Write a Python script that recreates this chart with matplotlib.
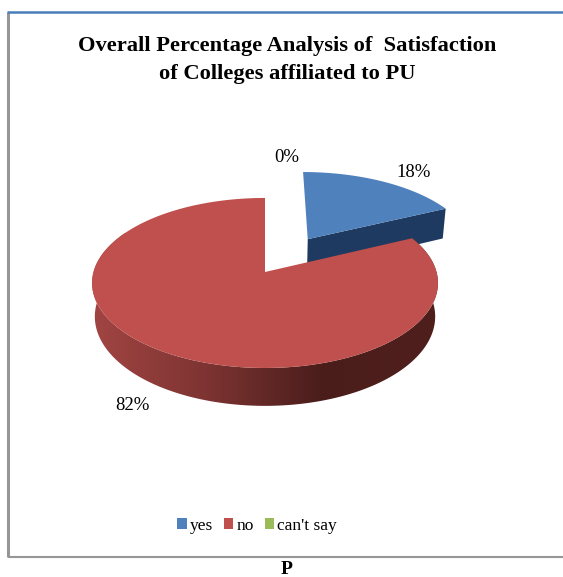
import numpy as np
import matplotlib
matplotlib.use("Agg")
import matplotlib.pyplot as plt
from matplotlib.colors import LinearSegmentedColormap
from matplotlib.patches import Patch, Polygon

categories = ["yes", "no", "can't say"]
shares = [18, 82, 0]
colors = ["#4f81bd", "#c0504d", "#9bbb59"]
title_lines = ["Overall Percentage Analysis of  Satisfaction", "of Colleges affiliated to PU"]

plt.rcParams["font.family"] = ["Liberation Serif", "DejaVu Serif"]

# pie geometry in figure pixels
CX, CY = 265, 272
RX, RY = 171.5, 83.6
PERSP = 0.129
DEPTH = 33
EXPLODE = 0.49


def project(u, v, drop=0.0):
    # circle coordinates to screen, with a little perspective towards the back
    w = 1 + PERSP * v
    shrink = 1 - 0.016 * drop
    return CX + RX * u * shrink / w, CY - RY * v / w + DEPTH * drop / w


def rim(a0, a1, offset=(0, 0), drop=0.0):
    # outer edge of a slice, angles clockwise from 12 o'clock
    t = np.radians(np.linspace(a0, a1, 200))
    return project(offset[0] + np.sin(t), offset[1] + np.cos(t), drop)


def top_face(a0, a1, offset=(0, 0)):
    x, y = rim(a0, a1, offset)
    ax0, ay0 = project(offset[0], offset[1])
    return np.column_stack([np.r_[ax0, x], np.r_[ay0, y]])


fig = plt.figure(figsize=(5.63, 5.77), dpi=100)
ax = fig.add_axes([0, 0, 1, 1])

# slice angles from the shares
yes_end = shares[0] / sum(shares) * 360
no_end = yes_end + shares[1] / sum(shares) * 360
mid = np.radians(yes_end / 2)
off = (EXPLODE * np.sin(mid), EXPLODE * np.cos(mid))

# cut face of the pulled out slice
ax0, ay0 = project(off[0], off[1])
bx0, by0 = project(off[0], off[1], 1)
tx, ty = rim(yes_end, yes_end, off)
tbx, tby = rim(yes_end, yes_end, off, 1)
ax.add_patch(Polygon([(ax0, ay0), (tx[0], ty[0]), (tbx[0], tby[0]), (bx0, by0)],
                     closed=True, fc="#1f3a60", ec="none", zorder=2))
ax.add_patch(Polygon(top_face(0, yes_end, off), closed=True, fc=colors[0], ec="none", zorder=3))

# outer wall of the big slice, shaded left to right
ux, uy = rim(yes_end, 300)
lx, ly = rim(yes_end, 300, drop=1)
wall = Polygon(np.column_stack([np.r_[ux, lx[::-1]], np.r_[uy, ly[::-1]]]),
               closed=True, fc="none", ec="none", zorder=4)
ax.add_patch(wall)
shade = LinearSegmentedColormap.from_list("wall", ["#a24543", "#7d3432", "#4a1d1b", "#4f1f1d"])
img = ax.imshow(np.linspace(0, 1, 256)[None, :], cmap=shade, aspect="auto",
                extent=(90, 438, 420, 190), zorder=4)
img.set_clip_path(wall)
ax.add_patch(Polygon(top_face(yes_end, no_end), closed=True, fc=colors[1], ec="none", zorder=5))

# chart frame
ax.plot([8, 8], [12, 557], color="#969696", lw=2.2, zorder=1, solid_capstyle="butt")
ax.plot([8, 563], [557, 557], color="#969696", lw=1.5, zorder=1, solid_capstyle="butt")
ax.plot([7, 563], [12, 12], color="#4a7ebb", lw=1.8, zorder=1, solid_capstyle="butt")

ax.text(287, 46.5, title_lines[0], ha="center", va="center", fontsize=16.2, fontweight="bold")
ax.text(287, 74.5, title_lines[1], ha="center", va="center", fontsize=16.2, fontweight="bold")
ax.text(287, 569.5, "P", ha="center", va="center", fontsize=14, fontweight="bold")

# percentage labels
label_pos = [(414, 172.5), (132.5, 405.5), (287, 157.5)]
for val, (lx_, ly_) in zip(shares, label_pos):
    ax.text(lx_, ly_, f"{val}%", ha="center", va="center", fontsize=13.5)

handles = [Patch(fc=c, ec="none") for c in colors]
ax.legend(handles, categories, loc="center", bbox_to_anchor=(257 / 563, 1 - 525.5 / 577),
          ncol=3, frameon=False, fontsize=12.5, handlelength=0.55, handleheight=0.55,
          handletextpad=0.17, columnspacing=0.63, borderpad=0)

ax.set_xlim(0, 563)
ax.set_ylim(577, 0)
ax.axis("off")
fig.savefig("out.png", dpi=100)
